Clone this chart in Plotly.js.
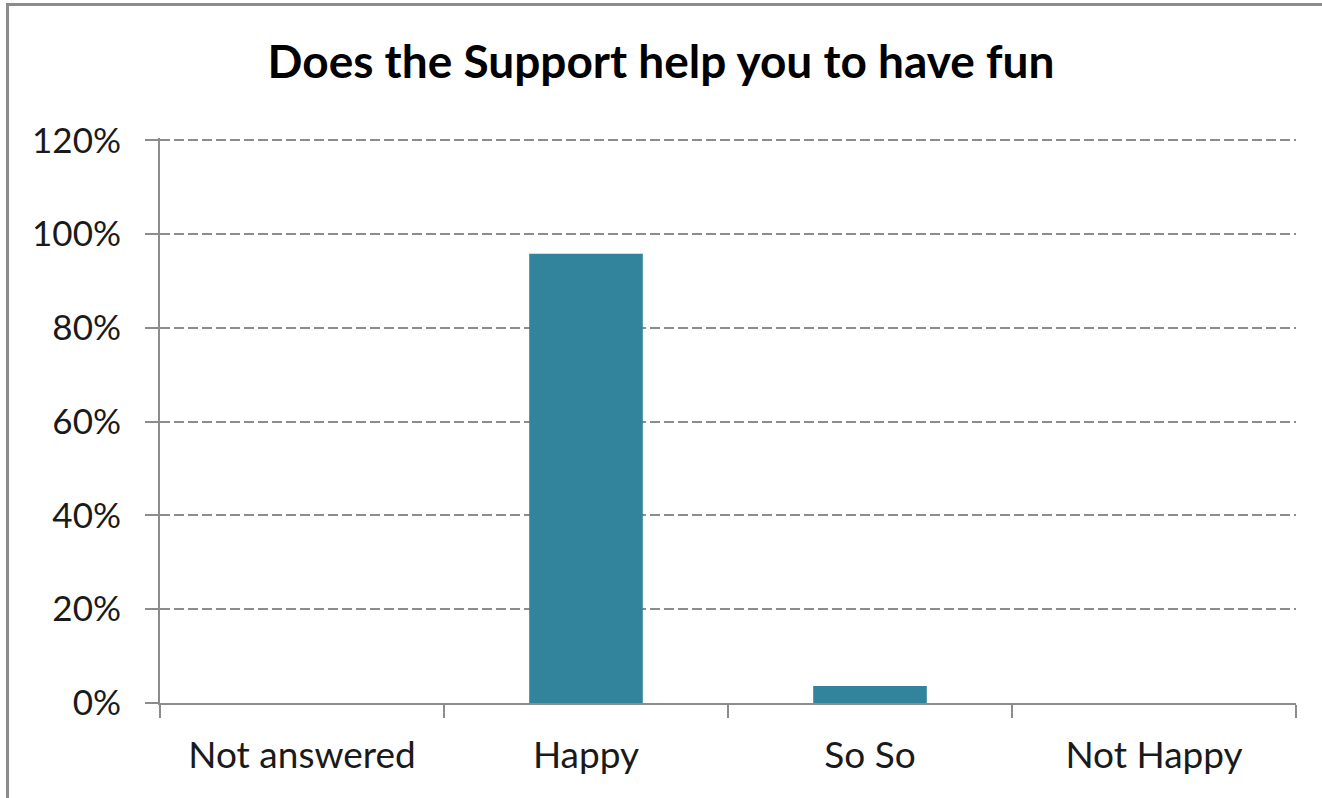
<!DOCTYPE html>
<html>
<head>
<meta charset="utf-8">
<script src="https://cdn.plot.ly/plotly-3.0.1.min.js"></script>
<style>
  html, body { margin: 0; padding: 0; background: #ffffff; overflow: hidden; }
  #frame { position: absolute; left: 0; top: 0; width: 1322px; height: 798px; }
  #border { position: absolute; left: 6px; top: 3px; width: 1330px; height: 810px;
            border-left: 3px solid #8c8c8c; border-top: 3px solid #8c8c8c; pointer-events: none; }
  #chart { position: absolute; left: 0; top: 0; width: 1322px; height: 798px; }
</style>
</head>
<body>
<div id="frame">
  <div id="chart"></div>
  <div id="border"></div>
</div>
<script>
const chartTitle = "Does the Support help you to have fun";
const categories = ["Not answered", "Happy", "So So", "Not Happy"];
const shares = [0, 0.958, 0.036, 0];
const yTickValues = [0, 0.2, 0.4, 0.6, 0.8, 1.0, 1.2];

const FONT = "Lato, 'Open Sans', sans-serif";
const GRAY = "#8c8c8c";

const trace = {
  type: "bar",
  x: categories,
  y: shares,
  marker: { color: "#31849b", line: { width: 0 } },
  hoverinfo: "x+y"
};

const layout = {
  width: 1322,
  height: 798,
  margin: { l: 160, r: 26, t: 138, b: 95, pad: 0 },
  paper_bgcolor: "#ffffff",
  plot_bgcolor: "#ffffff",
  bargap: 0.6,
  showlegend: false,
  font: { family: FONT, color: "#1a1a1a" },
  title: {
    text: "<b>" + chartTitle + "</b>",
    font: { family: FONT, size: 46, color: "#000000" },
    x: 0.5, xanchor: "center",
    y: 1 - 62 / 798, yanchor: "middle", yref: "container"
  },
  xaxis: {
    type: "category",
    showgrid: false,
    showline: true, linecolor: GRAY, linewidth: 2,
    ticks: "outside", tickson: "boundaries", ticklen: 13, tickcolor: GRAY, tickwidth: 2,
    tickfont: { family: FONT, size: 37, color: "#1a1a1a" },
    ticklabelstandoff: 19,
    fixedrange: true
  },
  yaxis: {
    range: [0, 1.205],
    tickvals: yTickValues,
    tickformat: ".0%",
    showgrid: true, gridcolor: GRAY, gridwidth: 2, griddash: "10px,4px",
    zeroline: false,
    showline: true, linecolor: GRAY, linewidth: 2,
    ticks: "outside", ticklen: 13, tickcolor: GRAY, tickwidth: 2,
    tickfont: { family: FONT, size: 35, color: "#1a1a1a" },
    ticklabelstandoff: 17,
    fixedrange: true
  }
};

Plotly.newPlot("chart", [trace], layout, { displayModeBar: false, staticPlot: true });
</script>
</body>
</html>
